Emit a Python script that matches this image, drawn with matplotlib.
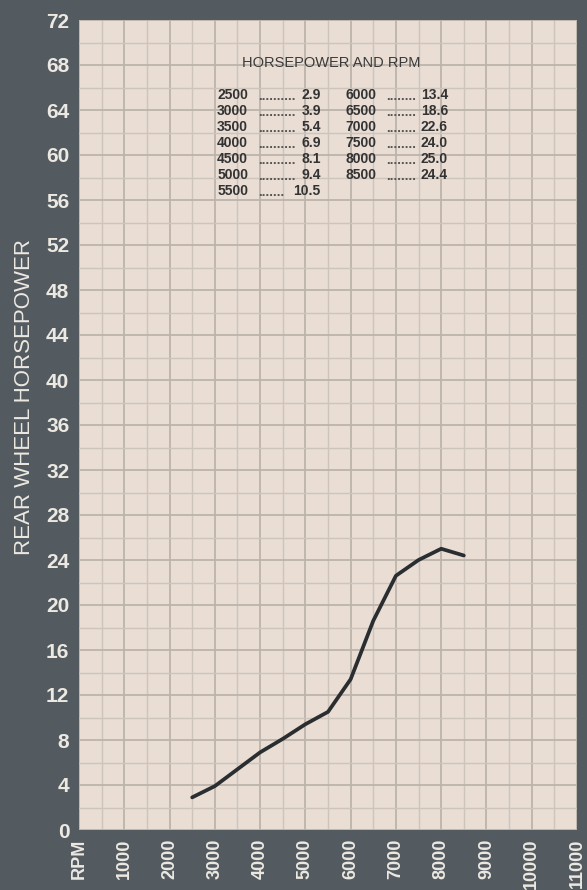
import matplotlib
matplotlib.use("Agg")
import matplotlib.pyplot as plt
from matplotlib.ticker import MultipleLocator

# ---- data ----
rpm = [2500, 3000, 3500, 4000, 4500, 5000, 5500, 6000, 6500, 7000, 7500, 8000, 8500]
hp = [2.9, 3.9, 5.4, 6.9, 8.1, 9.4, 10.5, 13.4, 18.6, 22.6, 24.0, 25.0, 24.4]
y_ticks = list(range(0, 73, 4))
x_ticks = list(range(0, 11001, 1000))
x_tick_labels = ["RPM"] + [str(v) for v in range(1000, 11001, 1000)]
table_title = "HORSEPOWER AND RPM"
y_label = "REAR WHEEL HORSEPOWER"

DARK = "#545b60"
PAPER = "#e9ddd4"
INK = "#2a2e31"
LABEL = "#ece8e2"
FONT = "Liberation Sans"

W, H = 587, 890
fig = plt.figure(figsize=(W / 100, H / 100), dpi=100, facecolor=DARK)
L, R, T, B = 79, 577, 20, 830
ax = fig.add_axes([L / W, (H - B) / H, (R - L) / W, (B - T) / H])
ax.set_facecolor(PAPER)
ax.set_xlim(0, 11000)
ax.set_ylim(0, 72)
for s in ax.spines.values():
    s.set_visible(False)

ax.xaxis.set_major_locator(MultipleLocator(1000))
ax.xaxis.set_minor_locator(MultipleLocator(500))
ax.yaxis.set_major_locator(MultipleLocator(4))
ax.yaxis.set_minor_locator(MultipleLocator(2))
ax.grid(which="major", color="#bcb3aa", lw=1.3)
ax.grid(which="minor", color="#cdc4bb", lw=1.0)
ax.set_axisbelow(True)

ax.set_yticks(y_ticks)
ax.set_yticklabels([str(v) for v in y_ticks], color=LABEL, fontsize=15,
                   fontweight="bold", family=FONT)
ax.set_xticks(x_ticks)
ax.set_xticklabels(x_tick_labels, color=LABEL, fontsize=13, fontweight="bold",
                   rotation=90, family=FONT, va="top", ha="center")
ax.tick_params(which="both", length=0)
ax.tick_params(axis="y", pad=7)
ax.tick_params(axis="x", pad=6)

fig.text(25 / W, 1 - 397 / H, y_label, rotation=90, ha="center", va="center",
         color=LABEL, fontsize=16, family=FONT)

ax.plot(rpm, hp, color=INK, lw=2.7, solid_capstyle="round", solid_joinstyle="round")

# ---- table ----
ax.text(5580, 68.2, table_title, ha="center", va="center", fontsize=10.5,
        color="#3a3a3a", family=FONT)
row0 = 65.3
dy = 1.42
cols = [(3050, 3950, 5340), (5890, 6780, 8150)]
for i, (r, h) in enumerate(zip(rpm, hp)):
    c = 0 if i < 7 else 1
    row = i if i < 7 else i - 7
    y = row0 - row * dy
    x0, x1, x2 = cols[c]
    val = f"{h:.1f}"
    ax.text(x0, y, str(r), ha="left", va="center", fontsize=10, fontweight="bold",
            color="#333333", family=FONT)
    ndots = (10 if c == 0 else 8) if len(val) == 3 else (7 if c == 0 else 8)
    ax.text(x1, y - 0.15, "." * ndots, ha="left", va="center",
            fontsize=9.5, fontweight="bold", color="#555555", family=FONT)
    ax.text(x2, y, val, ha="right", va="center", fontsize=10, fontweight="bold",
            color="#333333", family=FONT)

fig.savefig("out.png", dpi=100, facecolor=DARK)
